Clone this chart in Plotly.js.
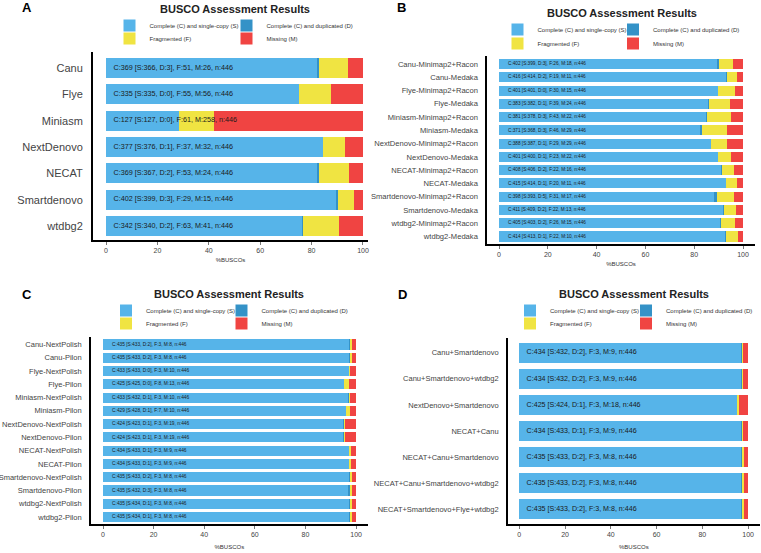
<!DOCTYPE html>
<html><head><meta charset="utf-8">
<script src="https://cdn.plot.ly/plotly-3.0.1.min.js"></script>
<style>html,body{margin:0;padding:0;background:#fff;}#chart{width:761px;height:553px;}</style>
</head><body><div id="chart"></div>
<script>
// ---------- data ----------
const seriesNames = ['Complete (C) and single-copy (S)', 'Complete (C) and duplicated (D)', 'Fragmented (F)', 'Missing (M)'];
const seriesColors = ['#56B4E9', '#3492C7', '#F0E442', '#F04442'];
const nTotal = 446;
const xTickVals = [0, 20, 40, 60, 80, 100];
const chartTitle = 'BUSCO Assessment Results';
const xTitle = '%BUSCOs';

const catsA = ['Canu', 'Flye', 'Miniasm', 'NextDenovo', 'NECAT', 'Smartdenovo', 'wtdbg2'];
const sA = [366, 335, 127, 376, 367, 399, 340];
const dA = [3, 0, 0, 1, 2, 3, 2];
const fA = [51, 55, 61, 37, 53, 29, 63];
const mA = [26, 56, 258, 32, 24, 15, 41];

const catsB = ['Canu-Minimap2+Racon', 'Canu-Medaka', 'Flye-Minimap2+Racon', 'Flye-Medaka',
  'Miniasm-Minimap2+Racon', 'Miniasm-Medaka', 'NextDenovo-Minimap2+Racon', 'NextDenovo-Medaka',
  'NECAT-Minimap2+Racon', 'NECAT-Medaka', 'Smartdenovo-Minimap2+Racon', 'Smartdenovo-Medaka',
  'wtdbg2-Minimap2+Racon', 'wtdbg2-Medaka'];
const sB = [399, 414, 401, 382, 378, 368, 387, 400, 406, 414, 393, 409, 403, 413];
const dB = [3, 2, 0, 1, 3, 3, 1, 1, 2, 1, 5, 2, 2, 1];
const fB = [26, 19, 30, 39, 43, 46, 29, 23, 22, 20, 31, 22, 26, 22];
const mB = [18, 11, 15, 24, 22, 29, 29, 22, 16, 11, 17, 13, 15, 10];

const catsC = ['Canu-NextPolish', 'Canu-Pilon', 'Flye-NextPolish', 'Flye-Pilon',
  'Miniasm-NextPolish', 'Miniasm-Pilon', 'NextDenovo-NextPolish', 'NextDenovo-Pilon',
  'NECAT-NextPolish', 'NECAT-Pilon', 'Smartdenovo-NextPolish', 'Smartdenovo-Pilon',
  'wtdbg2-NextPolish', 'wtdbg2-Pilon'];
const sC = [433, 433, 433, 425, 432, 428, 423, 423, 433, 433, 433, 432, 434, 434];
const dC = [2, 2, 0, 0, 1, 1, 1, 1, 1, 1, 2, 3, 1, 1];
const fC = [3, 3, 3, 8, 3, 7, 3, 3, 3, 3, 3, 3, 3, 3];
const mC = [8, 8, 10, 13, 10, 10, 19, 19, 9, 9, 8, 8, 8, 8];

const catsD = ['Canu+Smartdenovo', 'Canu+Smartdenovo+wtdbg2', 'NextDenovo+Smartdenovo', 'NECAT+Canu',
  'NECAT+Canu+Smartdenovo', 'NECAT+Canu+Smartdenovo+wtdbg2', 'NECAT+Smartdenovo+Flye+wtdbg2'];
const sD = [432, 432, 424, 433, 433, 433, 433];
const dD = [2, 2, 1, 1, 2, 2, 2];
const fD = [3, 3, 3, 3, 3, 3, 3];
const mD = [9, 9, 18, 9, 8, 8, 8];

// ---------- layout helpers ----------
const W = 761, H = 553;
const px = v => v / W;
const py = v => 1 - v / H;

const panels = [
  { letter: 'A', cats: catsA, s: sA, d: dA, f: fA, m: mA,
    xdom: [93, 368], ydom: [52, 240], xr: [-5.06, 101.95], yr: [6.532, -0.608],
    catFont: 11, barFont: 7.2, labelX: 2.9, lineW: 2, tStand: 4,
    title: [235, 9], let: [27, 8], leg: [[133.5, 25.5], [245.5, 25.5], [38.5]] },
  { letter: 'B', cats: catsB, s: sB, d: dB, f: fB, m: mB,
    xdom: [487, 755], ydom: [56, 244], xr: [-4.92, 104.9], yr: [13.565, -0.603],
    catFont: 7.6, barFont: 4.7, labelX: 3.7, lineW: 1.6, tStand: 5,
    title: [621.6, 13], let: [401, 8], leg: [[521.5, 29.5], [632, 29.5], [43.5]] },
  { letter: 'C', cats: catsC, s: sC, d: dC, f: fC, m: mC,
    xdom: [90.7, 368], ydom: [337, 524], xr: [-4.86, 104.7], yr: [13.528, -0.565],
    catFont: 7.5, barFont: 4.8, labelX: 3.6, lineW: 1.6, tStand: 8,
    title: [229, 293.5], let: [27, 294.5], leg: [[130, 310.5], [240.5, 310.5], [323.5]] },
  { letter: 'D', cats: catsD, s: sD, d: dD, f: fD, m: mD,
    xdom: [507.7, 760], ydom: [338, 524], xr: [-5.07, 105.2], yr: [6.563, -0.563],
    catFont: 7.5, barFont: 7.1, labelX: 3.2, lineW: 1.6, tStand: 8,
    title: [634, 294], let: [402, 294.5], leg: [[534, 310.5], [645, 310.5], [323.5]] }
];

const traces = [];
const layout = {
  width: W, height: H,
  margin: { l: 0, r: 0, t: 0, b: 0, pad: 0, autoexpand: false },
  paper_bgcolor: '#ffffff', plot_bgcolor: '#ffffff',
  barmode: 'stack', bargap: 0.24,
  font: { family: 'Liberation Sans, Arial, sans-serif', color: '#333' },
  showlegend: true,
  annotations: []
};

panels.forEach((p, k) => {
  const sfx = k === 0 ? '' : String(k + 1);
  const xa = 'x' + sfx, ya = 'y' + sfx;
  const legRow1 = k === 0 ? 'legend' : 'legend' + (2 * k + 1);
  const legRow2 = 'legend' + (2 * k + 2);
  const colGap = p.leg[1][0] - p.leg[0][0];
  const series = [p.s, p.d, p.f, p.m];
  series.forEach((vals, j) => {
    traces.push({
      type: 'bar', orientation: 'h',
      y: p.cats, x: vals.map(v => v / nTotal * 100),
      xaxis: xa, yaxis: ya,
      name: seriesNames[j],
      marker: { color: seriesColors[j], line: { width: 0 } },
      legend: j < 2 ? legRow1 : legRow2,
      legendwidth: (j % 2 === 0) ? colGap - 40 : 100,
      showlegend: true,
      hovertemplate: '%{y}: %{x:.1f}%<extra>' + seriesNames[j] + '</extra>'
    });
  });
  const labels = p.cats.map((c, i) =>
    'C:' + (p.s[i] + p.d[i]) + ' [S:' + p.s[i] + ', D:' + p.d[i] + '], F:' + p.f[i] + ', M:' + p.m[i] + ', n:' + nTotal);
  traces.push({
    type: 'scatter', mode: 'text',
    y: p.cats, x: p.cats.map(() => p.labelX),
    text: labels, textposition: 'middle right',
    textfont: { size: p.barFont, color: '#1a1a1a', family: 'Liberation Sans, Arial, sans-serif' },
    xaxis: xa, yaxis: ya, showlegend: false, hoverinfo: 'skip', cliponaxis: false
  });

  layout['xaxis' + sfx] = {
    domain: [px(p.xdom[0]), px(p.xdom[1])], anchor: ya,
    range: p.xr, tickvals: xTickVals, showgrid: false, zeroline: false,
    showline: true, linecolor: '#000', linewidth: p.lineW,
    ticks: 'outside', ticklen: 3, tickcolor: '#777', tickwidth: 1,
    tickfont: { size: 7, color: '#444' },
    title: { text: xTitle, font: { size: 6, color: '#333' }, standoff: p.tStand },
    automargin: false, fixedrange: true
  };
  layout['yaxis' + sfx] = {
    domain: [py(p.ydom[1]), py(p.ydom[0])], anchor: xa,
    type: 'category', range: p.yr, showgrid: false, zeroline: false,
    showline: true, linecolor: '#000', linewidth: p.lineW,
    ticks: '', ticklabelstandoff: 6,
    tickfont: { size: p.catFont, color: '#444' },
    automargin: false, fixedrange: true
  };
  const legBase = {
    orientation: 'h', xanchor: 'left', yanchor: 'middle',
    font: { size: 6, color: '#333' }, bgcolor: 'rgba(0,0,0,0)', borderwidth: 0,
    traceorder: 'normal', itemclick: false, itemdoubleclick: false
  };
  layout[legRow1] = Object.assign({}, legBase, { x: px(p.leg[0][0] - 24), y: py(p.leg[0][1]) });
  layout[legRow2] = Object.assign({}, legBase, { x: px(p.leg[0][0] - 24), y: py(p.leg[2][0]) });

  layout.annotations.push({
    xref: 'paper', yref: 'paper', x: px(p.title[0]), y: py(p.title[1]),
    xanchor: 'center', yanchor: 'middle', showarrow: false,
    text: '<b>' + chartTitle + '</b>', font: { size: 11, color: '#222' }
  });
  layout.annotations.push({
    xref: 'paper', yref: 'paper', x: px(p.let[0]), y: py(p.let[1]),
    xanchor: 'center', yanchor: 'middle', showarrow: false,
    text: '<b>' + p.letter + '</b>', font: { size: 13, color: '#000' }
  });
});

Plotly.newPlot('chart', traces, layout, { displayModeBar: false, staticPlot: true });
</script>
</body></html>
